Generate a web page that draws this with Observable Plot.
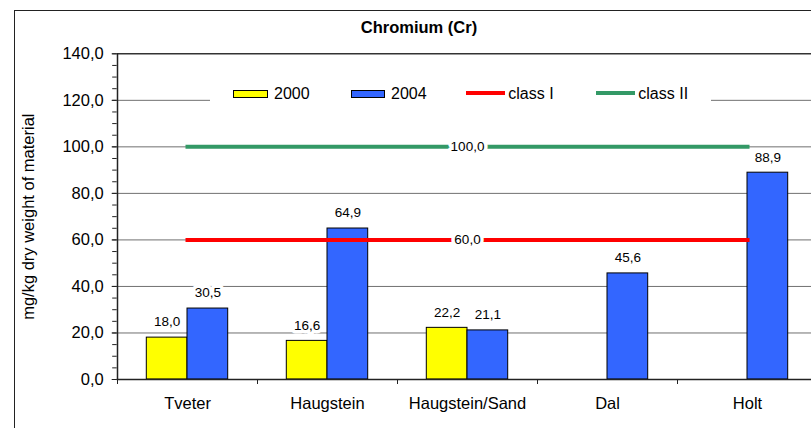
<!DOCTYPE html>
<html>
<head>
<meta charset="utf-8">
<script src="https://cdn.jsdelivr.net/npm/d3@7"></script>
<script src="https://cdn.jsdelivr.net/npm/@observablehq/plot@0.6"></script>
<style>
  html, body { margin: 0; padding: 0; background: #fff; overflow: hidden; }
  #chart { position: relative; width: 811px; height: 428px; overflow: hidden;
           font-family: "Liberation Sans", Arial, sans-serif; color: #000; }
  #chart svg { position: absolute; left: 0; top: 0; max-width: none; }
  #frame { position: absolute; left: 14px; top: 10px; width: 820px; height: 440px;
           border: 1.5px solid #222; pointer-events: none; }
  #title { position: absolute; left: 14px; width: 810px; top: 17px; text-align: center;
           font-weight: bold; font-size: 16.5px; line-height: 20px; }
  #legend { position: absolute; left: 210px; top: 82px; width: 501px; height: 22px; background: #fff; }
  .lg-swatch { position: absolute; box-sizing: border-box; }
  .lg-text { position: absolute; font-size: 16px; line-height: 18px; top: 84.5px; white-space: nowrap; }
</style>
</head>
<body>
<div id="chart">
  <div id="title">Chromium (Cr)</div>
</div>
<script>
// Chromium content per sampling site (mg/kg dry weight)
const sites = ["Tveter", "Haugstein", "Haugstein/Sand", "Dal", "Holt"];
const cr2000 = [18.0, 16.6, 22.2, null, null];
const cr2004 = [30.5, 64.9, 21.1, 45.6, 88.9];
// Quality class limits
const classI = [60, 60, 60, 60, 60];
const classII = [100, 100, 100, 100, 100];
const yTicks = [0, 20, 40, 60, 80, 100, 120, 140];
const yMinorTicks = d3.range(0, 141, 5);
const seriesNames = ["2000", "2004", "class I", "class II"];

const fmt = v => v.toFixed(1).replace(".", ",");

const rows = (vals) => sites.map((site, i) => ({site, value: vals[i]})).filter(d => d.value != null);
const rows2000 = rows(cr2000);
const rows2004 = rows(cr2004);
const rowsI = rows(classI);
const rowsII = rows(classII);
const labelSite = sites[2];

// layout of the band scale: two bars per site, centred in each band
const xRange = [116.7, 816.7];
const step = (xRange[1] - xRange[0]) / sites.length;
const barW = 40.7;
const outer = (step - 2 * barW) / 2;

const colors = {"2000": "#ffff00", "2004": "#3366ff", "class I": "#ff0000", "class II": "#339966"};

const halo = {stroke: "white", strokeWidth: 7, paintOrder: "stroke", strokeLinejoin: "round"};

// the plot area continues past the right edge of the visible chart box
const plot = Plot.plot({
  width: 830,
  height: 428,
  marginLeft: 116.7,
  marginRight: 0,
  marginTop: 53.3,
  marginBottom: 49,
  style: {fontFamily: "'Liberation Sans', Arial, sans-serif", fontSize: "16.5px", color: "#000", background: "transparent"},
  x: {domain: sites, range: xRange, padding: 0},
  y: {domain: [0, 140]},
  marks: [
    Plot.gridY(yTicks.filter(t => t > 0 && t < 140), {stroke: "#707070", strokeOpacity: 1, strokeWidth: 1}),
    Plot.ruleY([140], {stroke: "#333", strokeWidth: 1.5}),
    Plot.barY(rows2000, {x: "site", y: "value", fill: colors["2000"], stroke: "#000", strokeWidth: 1,
      insetLeft: outer, insetRight: outer + barW}),
    Plot.barY(rows2004, {x: "site", y: "value", fill: colors["2004"], stroke: "#000", strokeWidth: 1,
      insetLeft: outer + barW, insetRight: outer}),
    Plot.text(rows2000, {x: "site", y: "value", text: d => fmt(d.value), dx: -barW / 2, dy: -15.5,
      fontSize: 13.5, fill: "#000", ...halo}),
    Plot.text(rows2004, {x: "site", y: "value", text: d => fmt(d.value), dx: barW / 2, dy: -15.5,
      fontSize: 13.5, fill: "#000", ...halo}),
    Plot.line(rowsII, {x: "site", y: "value", stroke: colors["class II"], strokeWidth: 4, strokeLinecap: "square"}),
    Plot.line(rowsI, {x: "site", y: "value", stroke: colors["class I"], strokeWidth: 4, strokeLinecap: "square"}),
    Plot.text(rowsII.filter(d => d.site === labelSite), {x: "site", y: "value", text: d => fmt(d.value),
      fontSize: 13.5, fill: "#000", ...halo}),
    Plot.text(rowsI.filter(d => d.site === labelSite), {x: "site", y: "value", text: d => fmt(d.value),
      fontSize: 13.5, fill: "#000", ...halo}),
    // axes
    Plot.ruleY([0], {stroke: "#222", strokeWidth: 1.5}),
    Plot.ruleX([sites[0]], {x: d => d, dx: -step / 2, stroke: "#222", strokeWidth: 1.5}),
    Plot.axisY({ticks: yMinorTicks, tickSize: 4.5, tickFormat: () => "", label: null, stroke: "#222"}),
    Plot.axisY({ticks: yTicks, tickSize: 5, tickPadding: 8.5, tickFormat: fmt, fontSize: 16.5, stroke: "#222",
      label: "mg/kg dry weight of material", labelAnchor: "center", labelOffset: 95, labelArrow: "none"}),
    Plot.axisX({tickSize: 5, tickFormat: () => "", dx: -step / 2, label: null, stroke: "#222"}),
    Plot.axisX({tickSize: 0, tickPadding: 18, fontSize: 16.5, label: null})
  ]
});

const chart = document.getElementById("chart");
chart.insertBefore(plot, chart.firstChild);

const frame = document.createElement("div");
frame.id = "frame";
chart.appendChild(frame);

// legend drawn over the plot area on a white band
const legend = document.createElement("div");
legend.id = "legend";
chart.appendChild(legend);

const legendItems = [
  {name: seriesNames[0], kind: "box", x: 233.3, w: 35, tx: 274},
  {name: seriesNames[1], kind: "box", x: 350.7, w: 34.5, tx: 391},
  {name: seriesNames[2], kind: "line", x: 466, w: 39, tx: 508.3},
  {name: seriesNames[3], kind: "line", x: 596, w: 39, tx: 638.3}
];
for (const it of legendItems) {
  const sw = document.createElement("div");
  sw.className = "lg-swatch";
  sw.style.left = it.x + "px";
  sw.style.width = it.w + "px";
  sw.style.background = colors[it.name];
  if (it.kind === "box") {
    sw.style.top = "89.5px";
    sw.style.height = "8.8px";
    sw.style.border = "1px solid #000";
  } else {
    sw.style.top = "91px";
    sw.style.height = "4px";
  }
  chart.appendChild(sw);
  const tx = document.createElement("div");
  tx.className = "lg-text";
  tx.style.left = it.tx + "px";
  tx.textContent = it.name;
  chart.appendChild(tx);
}
</script>
</body>
</html>
